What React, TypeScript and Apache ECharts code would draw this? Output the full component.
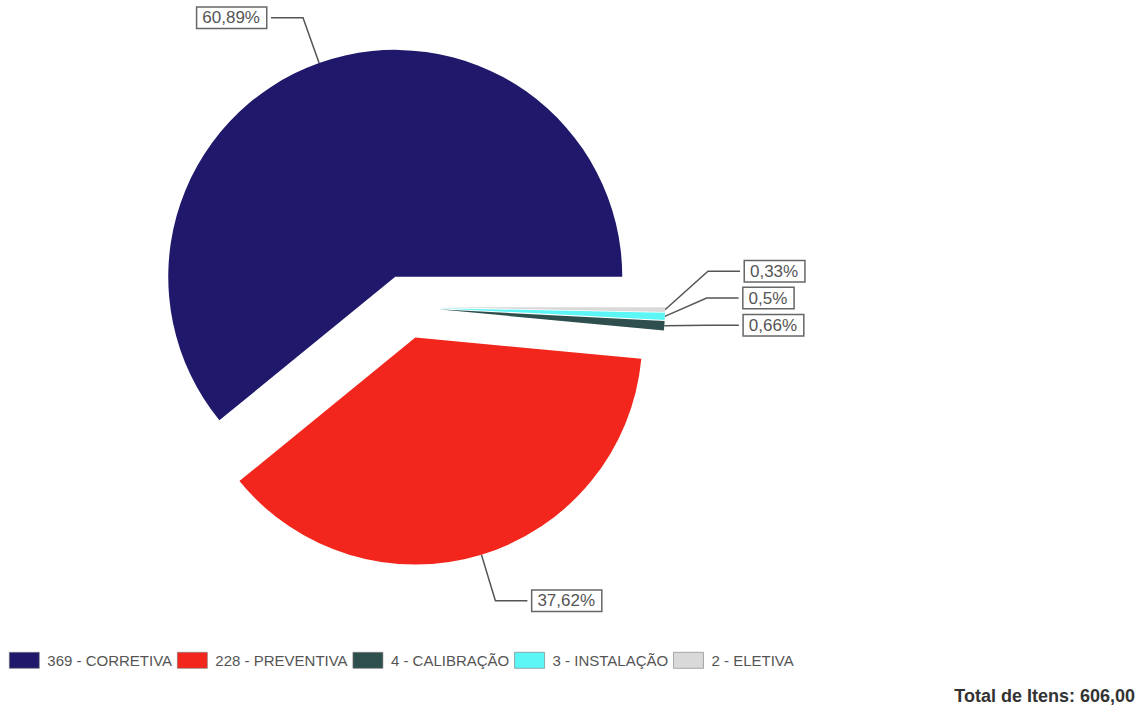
import React, { useEffect, useRef } from "react";
import * as echarts from "echarts";

// Service-order types and their item counts
const categories = ["CORRETIVA", "PREVENTIVA", "CALIBRAÇÃO", "INSTALAÇÃO", "ELETIVA"];
const counts = [369, 228, 4, 3, 2];
const colors = ["#1f186b", "#f2261c", "#2f4f4f", "#5cf6f6", "#d9d9d9"];

// [dx, dy] shift applied to the stacked labels of the thin slices (by data index)
const thinLabelShift: Record<number, [number, number]> = {
  2: [4, -37],
  3: [0, -38],
  4: [0, -39],
};

const total = counts.reduce((a, b) => a + b, 0);

const fmtPercent = (v: number) =>
  String(Number(((v / total) * 100).toFixed(2))).replace(".", ",");

const fmtTotal = (v: number) => v.toFixed(2).replace(".", ",");

export default function App() {
  const ref = useRef<HTMLDivElement>(null);

  useEffect(() => {
    document.body.style.margin = "0";
    if (!ref.current) return;
    const chart = echarts.init(ref.current, null, { renderer: "svg" });

    const names = categories.map((c, i) => `${counts[i]} - ${c}`);

    chart.setOption({
      animation: false,
      legend: {
        left: 4,
        top: 647,
        orient: "horizontal",
        itemWidth: 30,
        itemHeight: 16,
        itemGap: 5,
        icon: "rect",
        selectedMode: false,
        data: names,
        itemStyle: { borderColor: "#777", borderWidth: 0.6 },
        textStyle: {
          fontFamily: "Liberation Sans, Arial, sans-serif",
          fontSize: 15,
          color: "#555",
          padding: [0, 0, 0, 3],
        },
      },
      graphic: [
        {
          type: "text",
          right: 9,
          top: 687,
          style: {
            text: `Total de Itens: ${fmtTotal(total)}`,
            font: "bold 18px 'Liberation Sans', Arial, sans-serif",
            fill: "#333",
          },
        },
      ],
      series: [
        {
          type: "pie",
          center: [406, 307],
          radius: 227,
          startAngle: 0,
          clockwise: false,
          selectedMode: "multiple",
          selectedOffset: 32,
          avoidLabelOverlap: true,
          emphasis: { disabled: true },
          select: { itemStyle: { borderWidth: 0 } },
          label: {
            show: true,
            position: "outside",
            formatter: (p: any) => `${fmtPercent(p.value)}%`,
            fontFamily: "Liberation Sans, Arial, sans-serif",
            fontSize: 17,
            color: "#555",
            backgroundColor: "#fff",
            borderColor: "#666",
            borderWidth: 1.5,
            padding: [2, 6, 1, 5],
          },
          labelLine: {
            show: true,
            length: 48,
            length2: 32,
            lineStyle: { color: "#555", width: 1.5 },
          },
          labelLayout: (params: any) => {
            const shift = thinLabelShift[params.dataIndex];
            if (shift === undefined) return {};
            const [dx, dy] = shift;
            const pts = params.labelLinePoints;
            if (!pts || pts.length < 3) return { dx, dy };
            return {
              dx,
              dy,
              labelLinePoints: [
                [pts[0][0], pts[0][1]],
                [pts[1][0] + dx, pts[1][1] + dy],
                [pts[2][0] + dx, pts[2][1] + dy],
              ],
            };
          },
          data: counts.map((v, i) => ({
            name: names[i],
            value: v,
            selected: true,
            itemStyle: { color: colors[i] },
          })),
        },
      ],
    });

    return () => chart.dispose();
  }, []);

  return <div ref={ref} style={{ width: 1144, height: 711 }} />;
}
